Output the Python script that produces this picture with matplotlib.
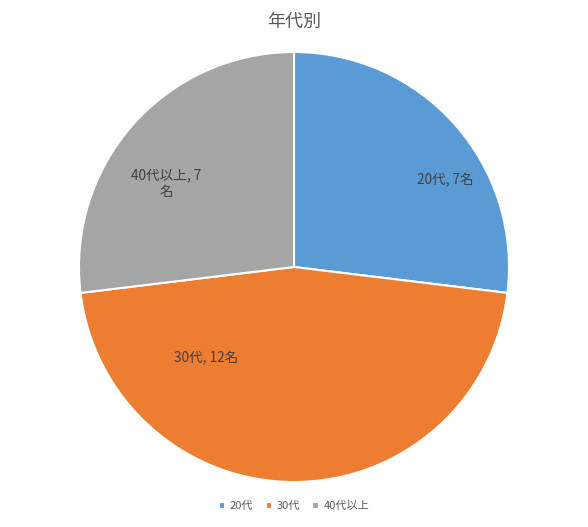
import matplotlib
matplotlib.use('Agg')
import matplotlib.pyplot as plt
import numpy as np

plt.rcParams['font.family'] = ['Noto Sans CJK JP', 'DejaVu Sans']

# data
categories = ['20代', '30代', '40代以上']
counts = [7, 12, 7]
label_texts = ['20代, 7名', '30代, 12名', '40代以上, 7\n名']
colors = ['#5B9BD5', '#ED7D31', '#A5A5A5']

# label placement (angle in degrees, fraction of radius), like Excel's best fit
label_angle = [30, 226, 147]
label_rad = [0.81, 0.59, 0.71]

fig = plt.figure(figsize=(5.88, 5.27), dpi=100)
ax = fig.add_axes([79/588, 45/527, 430/588, 430/527])

wedges, _ = ax.pie(counts, colors=colors, startangle=90, counterclock=False,
                   radius=1, wedgeprops=dict(edgecolor='white', linewidth=1.5))

for txt, ang, rr in zip(label_texts, label_angle, label_rad):
    a = np.deg2rad(ang)
    ax.text(rr*np.cos(a), rr*np.sin(a), txt, ha='center', va='center',
            fontsize=9.8, color='#404040', linespacing=1.25)

ax.set_xlim(-1, 1)
ax.set_ylim(-1, 1)
ax.set_aspect('equal')
ax.axis('off')

fig.text(294/588, 1 - 22/527, '年代別', ha='center', va='center',
         fontsize=13, color='#595959')

leg = fig.legend(wedges, categories, loc='center', bbox_to_anchor=(294/588, 1 - 506/527),
                 ncol=3, frameon=False, fontsize=8, handlelength=0.6, handleheight=0.6,
                 handletextpad=0.4, columnspacing=1.1, labelcolor='#595959')

fig.savefig('out.png', dpi=100)
